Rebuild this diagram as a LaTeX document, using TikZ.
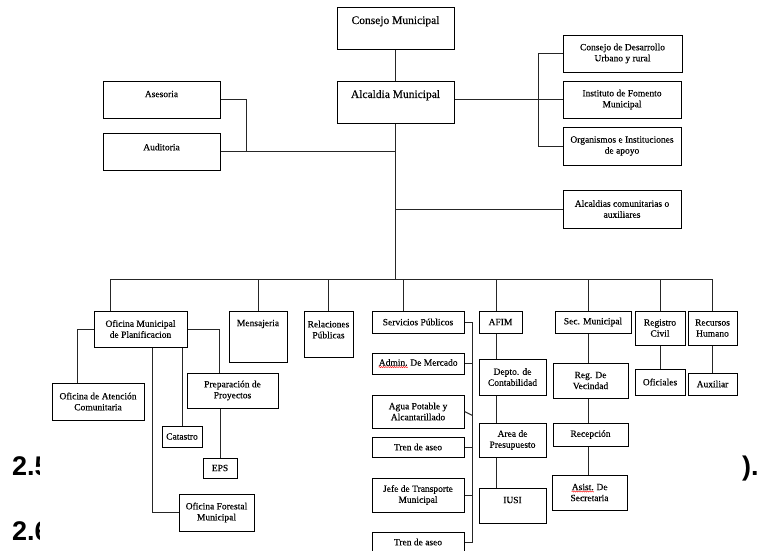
\documentclass[tikz,border=0pt]{standalone}
\usepackage{fontspec}
\setmainfont{Liberation Serif}[FakeBold=0.2]
\newfontfamily\titulo{Liberation Sans}
\usetikzlibrary{calc,decorations.pathmorphing}
\def\ondaroja#1{\tikz[baseline=(palabra.base)]{\node[draw=none, fill=none, inner sep=0pt, minimum width=0pt, minimum height=0pt, text height=, text depth=] (palabra) {#1};
	\draw[red, line width=0.4pt, decorate, decoration={snake, amplitude=0.6pt, segment length=2.2pt}] ([yshift=-1.4pt]palabra.base west) -- ([yshift=-1.4pt]palabra.base east);}}

\begin{document}
\begin{tikzpicture}[x=1pt, y=-1pt,
	caja/.style={draw, line width=1pt, fill=white, align=center, inner sep=1pt, font=\fontsize{9.5}{11}\selectfont},
	grande/.style={font=\fontsize{11.5}{14}\selectfont},
	enlace/.style={draw=black!85, line width=1pt},
	numero/.style={anchor=base west, inner sep=0pt, font=\titulo\bfseries\fontsize{27}{30}\selectfont}]
			%%%%% START %%%%%
			
			\useasboundingbox (0,0) rectangle (759,550);
			
			\node[numero] (t25) at (12,475) {2.5};
			\node[numero] (t26) at (12,540) {2.6};
			\node[numero] (tfin) at (742,475) {).};
			\fill[white] (40,0) rectangle (742,550);
			
			\node[caja, grande, minimum width=117pt, minimum height=42pt, text depth=16pt] (consejo) at (395.5,28) {Consejo Municipal};
			\node[caja, grande, minimum width=117pt, minimum height=42pt, text depth=16pt] (alcaldia) at (395.5,102) {Alcaldia Municipal};
			
			\node[caja, minimum width=117pt, minimum height=37pt, text depth=11pt] (asesoria) at (161.5,99.5) {Asesoria};
			\node[caja, minimum width=117pt, minimum height=37pt, text depth=9pt] (auditoria) at (161.5,151.5) {Auditoria};
			
			\node[caja, minimum width=119pt, minimum height=37pt] (desarrollo) at (622.5,53.5) {Consejo de Desarrollo\\Urbano y rural};
			\node[caja, minimum width=118pt, minimum height=37pt] (fomento) at (622,99.5) {Instituto de Fomento\\Municipal};
			\node[caja, minimum width=118pt, minimum height=38pt] (organismos) at (622,146) {Organismos e Instituciones\\de apoyo};
			\node[caja, minimum width=118pt, minimum height=38pt] (comunitarias) at (622,209) {Alcaldias comunitarias o\\auxiliares};
			
			\coordinate (bus) at (396,279);
			\coordinate (llave) at (538,0);
			\coordinate (juntaA) at ([xshift=25.5pt]auditoria.east);
			
			\draw[enlace] (consejo) -- (alcaldia);
			\draw[enlace] (alcaldia.south) -- (alcaldia.south |- bus);
			\draw[enlace] (asesoria.east) -| (juntaA);
			\draw[enlace] (auditoria.east) -- (juntaA) -- (bus |- juntaA);
			\draw[enlace] (alcaldia.east |- fomento.west) -- (fomento.west);
			\draw[enlace] (desarrollo.west) -- (llave |- desarrollo.west) -- (llave |- organismos.west) -- (organismos.west);
			\draw[enlace] (comunitarias.west) -- (bus |- comunitarias.west);
			
			% fila de dependencias
			\node[caja, minimum width=93pt, minimum height=36pt] (planif) at (140.5,329) {Oficina Municipal\\de Planificacion};
			\node[caja, minimum width=58pt, minimum height=51pt, text depth=27pt] (mensajeria) at (258,336.5) {Mensajeria};
			\node[caja, minimum width=49pt, minimum height=46pt, text depth=9pt] (relaciones) at (328.5,334) {Relaciones\\Públicas};
			\node[caja, minimum width=92pt, minimum height=22pt] (servicios) at (418,322) {Servicios Públicos};
			\node[caja, minimum width=43pt, minimum height=22pt] (afim) at (500.5,322) {AFIM};
			\node[caja, minimum width=76pt, minimum height=22pt] (secmun) at (593,322) {Sec. Municipal};
			\node[caja, minimum width=50pt, minimum height=34pt] (registro) at (660,328) {Registro\\Civil};
			\node[caja, minimum width=49pt, minimum height=34pt] (recursos) at (712.5,328) {Recursos\\Humano};
			
			\coordinate (planx) at ([xshift=17pt]planif.north west);
			\coordinate (servx) at ([xshift=32pt]servicios.north west);
			\coordinate (afimx) at ([xshift=18pt]afim.north west);
			\coordinate (secx) at ([xshift=34pt]secmun.north west);
			
			\draw[enlace] (planx |- bus) -- (recursos.north |- bus);
			\draw[enlace] (planx) -- (planx |- bus);
			\draw[enlace] (mensajeria.north) -- (mensajeria.north |- bus);
			\draw[enlace] (relaciones.north) -- (relaciones.north |- bus);
			\draw[enlace] (servx) -- (servx |- bus);
			\draw[enlace] (afimx) -- (afimx |- bus);
			\draw[enlace] (secx) -- (secx |- bus);
			\draw[enlace] (registro.north) -- (registro.north |- bus);
			\draw[enlace] (recursos.north) -- (recursos.north |- bus);
			
			% planificacion
			\node[caja, minimum width=92pt, minimum height=37pt] (atencion) at (98,401.5) {Oficina de Atención\\Comunitaria};
			\node[caja, minimum width=91pt, minimum height=35pt] (proyectos) at (232.5,390.5) {Preparación de\\Proyectos};
			\node[caja, minimum width=40pt, minimum height=21pt] (catastro) at (182,436.5) {Catastro};
			\node[caja, minimum width=34pt, minimum height=20pt] (eps) at (220,468) {EPS};
			\node[caja, minimum width=75pt, minimum height=37pt] (forestal) at (216.5,512.5) {Oficina Forestal\\Municipal};
			
			\draw[enlace] (planif.west) -| ([xshift=26pt]atencion.north west);
			\draw[enlace] (planif.east) -| ([xshift=33pt]proyectos.north west);
			\draw[enlace] (catastro.north) -- (catastro.north |- planif.south);
			\draw[enlace] (eps.north) -- (eps.north |- proyectos.south);
			\draw[enlace] ([xshift=59pt]planif.south west) |- (forestal.west);
			
			% servicios publicos
			\node[caja, minimum width=92pt, minimum height=21pt] (mercado) at (418,363.5) {\ondaroja{Admin.} De Mercado};
			\node[caja, minimum width=92pt, minimum height=33pt] (agua) at (418,411.5) {Agua Potable y\\Alcantarillado};
			\node[caja, minimum width=92pt, minimum height=20pt] (tren1) at (418,447) {Tren de aseo};
			\node[caja, minimum width=92pt, minimum height=34pt] (transporte) at (418,495) {Jefe de Transporte\\Municipal};
			\node[caja, minimum width=92pt, minimum height=20pt] (tren2) at (418,542) {Tren de aseo};
			
			\coordinate (sbarra) at ([xshift=8pt]servicios.east);
			\draw[enlace] (servicios.east) -- (sbarra) -- (sbarra |- tren2.east) -- (tren2.east);
			\draw[enlace] (mercado.east) -- (mercado.east -| sbarra);
			\draw[enlace] (agua.east) -- ([yshift=-4pt]agua.east -| sbarra);
			\draw[enlace] (tren1.east) -- (tren1.east -| sbarra);
			\draw[enlace] (transporte.east) -- (transporte.east -| sbarra);
			
			% afim
			\node[caja, minimum width=67pt, minimum height=36pt] (contab) at (512.5,377) {Depto. de\\Contabilidad};
			\node[caja, minimum width=67pt, minimum height=34pt] (presup) at (512.5,440) {Area de\\Presupuesto};
			\node[caja, minimum width=67pt, minimum height=35pt, text depth=11pt] (iusi) at (512.5,505.5) {IUSI};
			
			\draw[enlace] (afimx |- afim.south) -- (afimx |- contab.north);
			\draw[enlace] (afimx |- contab.south) -- (afimx |- presup.north);
			\draw[enlace] (afimx |- presup.south) -- (afimx |- iusi.north);
			
			% secretaria
			\node[caja, minimum width=75pt, minimum height=35pt] (vecindad) at (590.5,380.5) {Reg. De\\Vecindad};
			\node[caja, minimum width=75pt, minimum height=23pt] (recepcion) at (590.5,434.5) {Recepción};
			\node[caja, minimum width=75pt, minimum height=35pt] (asist) at (589.5,492.5) {\ondaroja{Asist.} De\\Secretaria};
			
			\draw[enlace] (secx |- secmun.south) -- (secx |- vecindad.north);
			\draw[enlace] (secx |- vecindad.south) -- (secx |- recepcion.north);
			\draw[enlace] (secx |- recepcion.south) -- (secx |- asist.north);
			
			\node[caja, minimum width=50pt, minimum height=26pt] (oficiales) at (660,382) {Oficiales};
			\node[caja, minimum width=49pt, minimum height=22pt] (auxiliar) at (712.5,384) {Auxiliar};
			
			\draw[enlace] (registro.south) -- (oficiales.north);
			\draw[enlace] (recursos.south) -- (auxiliar.north);
			
			%%%%% END %%%%%
\end{tikzpicture}
\end{document}
